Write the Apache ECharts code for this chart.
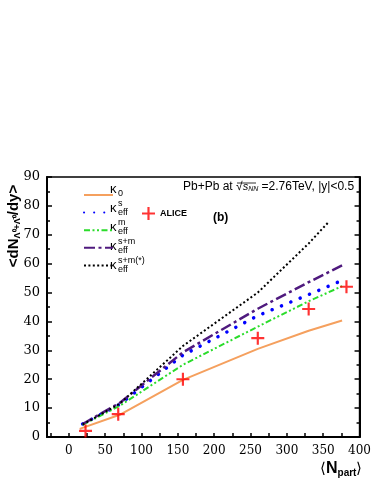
<!DOCTYPE html>
<html>
<head>
<meta charset="utf-8">
<script src="https://cdn.jsdelivr.net/npm/echarts@6/dist/echarts.min.js"></script>
<style>
  html, body { margin: 0; padding: 0; background: #fff; }
  #main { width: 374px; height: 484px; }
</style>
</head>
<body>
<div id="main"></div>
<script>
// model curves, Npart positions
var modelNpart = [19, 70, 157, 260, 330, 376];
var kappa0Npart = [15, 70, 157, 260, 330, 376];
var kappaSMStarNpart = [19, 70, 157, 260, 330, 357];

var kappa0 = [2.8, 7.7, 19.8, 30.5, 36.8, 40.3];       // κ0
var kappaM = [4.2, 10.8, 25.0, 38.2, 47.0, 52.2];      // κ^m_eff
var kappaS = [4.5, 11.3, 28.3, 42.0, 49.3, 54.2];      // κ^s_eff
var kappaSM = [4.5, 11.8, 29.3, 44.4, 53.6, 59.4];     // κ^{s+m}_eff
var kappaSMStar = [4.3, 11.5, 31.5, 50.0, 67.0, 74.3]; // κ^{s+m(*)}_eff

// ALICE data
var aliceNpart = [23, 68, 157, 260, 330, 382];
var aliceYield = [2.1, 7.9, 20.0, 34.2, 44.3, 52.0];

var xLabels = [0, 50, 100, 150, 200, 250, 300, 350, 400];
var xTicks = [-25, 0, 25, 50, 75, 100, 125, 150, 175, 200, 225, 250, 275, 300, 325, 350, 375, 400];

function pairs(xs, ys) {
  return xs.map(function (x, i) { return [x, ys[i]]; });
}

var chart = echarts.init(document.getElementById('main'));
var crossPath = 'path://M-1,-6 L1,-6 L1,-1 L6,-1 L6,1 L1,1 L1,6 L-1,6 L-1,1 L-6,1 L-6,-1 L-1,-1 Z';
var serif = '"DejaVu Serif", "Liberation Serif", serif';
var sans = '"Liberation Sans", Arial, sans-serif';

// legend text (κ with sup/sub)
var legendRows = [
  { y: 190, sup: '', sub: '0' },
  { y: 209, sup: 's', sub: 'eff' },
  { y: 228, sup: 'm', sub: 'eff' },
  { y: 247, sup: 's+m', sub: 'eff' },
  { y: 266, sup: 's+m(*)', sub: 'eff' }
];
var legendGraphics = [];
legendRows.forEach(function (r) {
  legendGraphics.push({ type: 'text', left: 110, top: r.y - 7,
    style: { text: 'κ', font: '13px ' + sans, fill: '#000' } });
  legendGraphics.push({ type: 'text', left: 118, top: r.y - 1,
    style: { text: r.sub, font: '9px ' + sans, fill: '#000' } });
  if (r.sup) {
    legendGraphics.push({ type: 'text', left: 118, top: r.y - 10,
      style: { text: r.sup, font: '9px ' + sans, fill: '#000' } });
  }
});

chart.setOption({
  animation: false,
  grid: { left: 47, right: 6, top: 177, bottom: 47, show: true, borderColor: '#000', borderWidth: 1.5 },
  legend: [{
    data: ['κ0', 'κs', 'κm', 'κs+m', 'κs+m(*)'],
    orient: 'vertical',
    left: 78, top: 183,
    itemWidth: 29, itemHeight: 14, itemGap: 5,
    itemStyle: { opacity: 0 },
    formatter: function () { return ''; },
    selectedMode: false
  }, {
    data: ['ALICE'],
    left: 137, top: 202,
    itemWidth: 13, itemHeight: 13,
    textStyle: { fontSize: 9, fontWeight: 'bold', fontFamily: sans, color: '#000' },
    selectedMode: false
  }],
  xAxis: [{
    type: 'value', min: -30, max: 400,
    axisLine: { lineStyle: { color: '#000', width: 2 } },
    axisTick: { inside: true, length: 4, customValues: xTicks, lineStyle: { color: '#000', width: 1.5 } },
    axisLabel: { customValues: xLabels, color: '#000', fontSize: 12, fontFamily: serif, margin: 8 },
    splitLine: { show: false }
  }],
  yAxis: [{
    type: 'value', min: 0, max: 90, interval: 10,
    axisLine: { show: true, onZero: false, lineStyle: { color: '#000', width: 2 } },
    axisTick: { inside: true, length: 5, lineStyle: { color: '#000', width: 1.5 } },
    minorTick: { show: true, splitNumber: 2, length: 3, lineStyle: { color: '#000', width: 1.5 } },
    axisLabel: { color: '#000', fontSize: 13, fontFamily: serif, margin: 7 },
    splitLine: { show: false }
  }, {
    type: 'value', min: 0, max: 90, interval: 10, position: 'right',
    axisLine: { show: true, onZero: false, lineStyle: { color: '#000', width: 2 } },
    axisTick: { show: true, inside: true, length: 5, lineStyle: { color: '#000', width: 1.5 } },
    minorTick: { show: true, splitNumber: 2, length: 3, lineStyle: { color: '#000', width: 1.5 } },
    axisLabel: { show: false },
    splitLine: { show: false }
  }],
  series: [{
    name: 'κ0', type: 'line', symbol: 'none', color: '#f5a05e',
    lineStyle: { width: 2, color: '#f5a05e' },
    data: pairs(kappa0Npart, kappa0)
  }, {
    name: 'κs', type: 'line', symbol: 'none', color: '#0000ff',
    lineStyle: { width: 3.5, color: '#0000ff', type: [0.1, 10], cap: 'round' },
    data: pairs(modelNpart, kappaS)
  }, {
    name: 'κm', type: 'line', symbol: 'none', color: '#2bdc2b',
    lineStyle: { width: 2, color: '#2bdc2b', type: [6, 2.5, 2, 2.5, 2, 2.5] },
    data: pairs(modelNpart, kappaM)
  }, {
    name: 'κs+m', type: 'line', symbol: 'none', color: '#4f1a7e',
    lineStyle: { width: 2.5, color: '#4f1a7e', type: [11, 3.5, 3, 3.5] },
    data: pairs(modelNpart, kappaSM)
  }, {
    name: 'κs+m(*)', type: 'line', symbol: 'none', color: '#000',
    lineStyle: { width: 2, color: '#000', type: [2, 2.4] },
    data: pairs(kappaSMStarNpart, kappaSMStar)
  }, {
    name: 'ALICE', type: 'scatter', symbol: crossPath, symbolSize: 13, color: '#ff0000',
    itemStyle: { color: '#ff0000' },
    z: 5,
    data: pairs(aliceNpart, aliceYield)
  }],
  graphic: legendGraphics.concat([{
    type: 'text', left: 183, top: 181,
    style: {
      text: '{t|Pb+Pb at }{r|√}{s|s}{n|NN}{t| =2.76TeV, |y|<0.5}',
      rich: {
        t: { font: '12px ' + sans, fill: '#000' },
        r: { font: '12px ' + sans, fill: '#000' },
        s: { font: 'italic 11px ' + sans, fill: '#000' },
        n: { font: 'italic 7px ' + sans, fill: '#000', padding: [5, 0, 0, 0] }
      }
    }
  }, {
    type: 'line', shape: { x1: 237, y1: 183, x2: 256, y2: 183 }, style: { stroke: '#000', lineWidth: 0.8 }
  }, {
    type: 'text', left: 213, top: 212,
    style: { text: '(b)', font: 'bold 12px ' + sans, fill: '#000' }
  }, {
    type: 'text', x: 14, y: 226, rotation: Math.PI / 2,
    style: {
      text: '{b|<dN}{s|Λ⁰+Λ̄⁰}{b|/dy>}',
      align: 'center', verticalAlign: 'middle',
      rich: {
        b: { font: 'bold 15px ' + sans, fill: '#000' },
        s: { font: 'bold 9px ' + sans, fill: '#000', padding: [8, 0, 0, 0] }
      }
    }
  }, {
    type: 'text', left: 320, top: 461,
    style: {
      text: '{a|⟨}{b|N}{s|part}{a|⟩}',
      rich: {
        a: { font: '15px ' + sans, fill: '#000' },
        b: { font: 'bold 16px ' + sans, fill: '#000' },
        s: { font: 'bold 10px ' + sans, fill: '#000', padding: [8, 0, 0, 0] }
      }
    }
  }])
});
</script>
</body>
</html>
